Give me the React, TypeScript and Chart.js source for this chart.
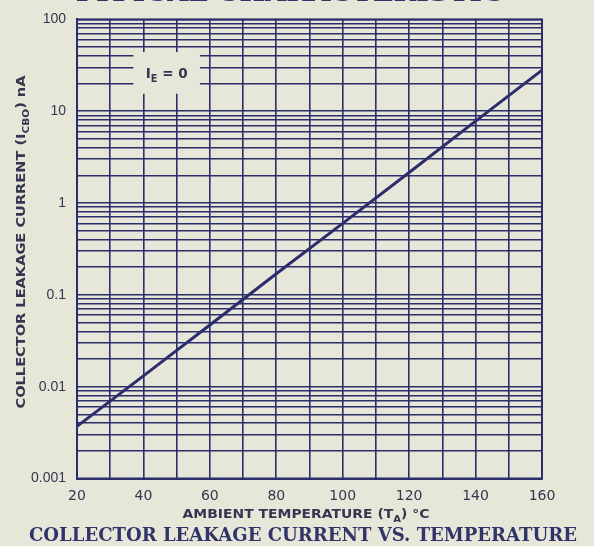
import React, { useEffect, useRef } from "react";
import { Chart, registerables } from "chart.js";

Chart.register(...registerables);

// ---- data ----
const temperatures = [20, 40, 60, 80, 100, 120, 140, 160];
const leakageNA = [0.0037, 0.0131, 0.047, 0.17, 0.6, 2.15, 7.8, 28];

const xGridTicks = [20, 30, 40, 50, 60, 70, 80, 90, 100, 110, 120, 130, 140, 150, 160];
const xLabeledTicks = [20, 40, 60, 80, 100, 120, 140, 160];

const yDecades = [0.001, 0.01, 0.1, 1, 10, 100];
const yDecadeLabels = ["0.001", "0.01", "0.1", "1", "10", "100"];
const yMinorMultipliers = [2, 3, 4, 5, 6, 7, 8, 9];

const topTitle = "TYPICAL CHARACTERISTIC";
const bottomTitle = "COLLECTOR LEAKAGE CURRENT VS. TEMPERATURE";

const BG = "#e7e7d9";
const INK = "#2c2e6c";
const TEXT = "#34364f";

type Part = { t: string; sub?: boolean };

function richWidth(ctx: CanvasRenderingContext2D, parts: Part[], size: number, weight: string, family: string) {
  let w = 0;
  for (const p of parts) {
    ctx.font = `${weight} ${p.sub ? size * 0.72 : size}px ${family}`;
    w += ctx.measureText(p.t).width;
  }
  return w;
}

function drawRich(
  ctx: CanvasRenderingContext2D,
  parts: Part[],
  cx: number,
  baseline: number,
  size: number,
  weight: string,
  family: string,
  color: string,
  targetWidth?: number
) {
  const w = richWidth(ctx, parts, size, weight, family);
  const sx = targetWidth ? targetWidth / w : 1;
  ctx.save();
  ctx.translate(cx, baseline);
  ctx.scale(sx, 1);
  ctx.fillStyle = color;
  ctx.textBaseline = "alphabetic";
  ctx.textAlign = "left";
  let x = -w / 2;
  for (const p of parts) {
    const s = p.sub ? size * 0.72 : size;
    ctx.font = `${weight} ${s}px ${family}`;
    ctx.fillText(p.t, x, p.sub ? size * 0.3 : 0);
    x += ctx.measureText(p.t).width;
  }
  ctx.restore();
}

const decorPlugin = {
  id: "decor",
  beforeDraw(chart: any) {
    const { ctx, width, height } = chart;
    ctx.save();
    ctx.fillStyle = BG;
    ctx.fillRect(0, 0, width, height);
    ctx.restore();
  },
  afterDraw(chart: any) {
    const { ctx, chartArea } = chart;
    const xs = chart.scales.x;
    const ys = chart.scales.y;

    // frame
    ctx.save();
    ctx.strokeStyle = INK;
    ctx.lineWidth = 2;
    ctx.strokeRect(chartArea.left, chartArea.top, chartArea.right - chartArea.left, chartArea.bottom - chartArea.top);
    ctx.restore();

    // I_E = 0 label box (covers grid)
    const bx0 = xs.getPixelForValue(37.0);
    const bx1 = xs.getPixelForValue(57.0);
    const by0 = ys.getPixelForValue(44);
    const by1 = ys.getPixelForValue(15.5);
    ctx.save();
    ctx.fillStyle = BG;
    ctx.fillRect(bx0, by0, bx1 - bx0, by1 - by0);
    ctx.restore();
    drawRich(ctx, [{ t: "I" }, { t: "E", sub: true }, { t: " = 0" }], (bx0 + bx1) / 2, (by0 + by1) / 2 + 5, 14, "bold", "'DejaVu Sans'", TEXT, 42);

    // x axis title
    drawRich(
      ctx,
      [{ t: "AMBIENT TEMPERATURE (T" }, { t: "A", sub: true }, { t: ") \u00B0C" }],
      306,
      518,
      12.5,
      "bold",
      "'DejaVu Sans'",
      TEXT,
      247
    );

    // y axis title (rotated)
    ctx.save();
    ctx.translate(25, 242);
    ctx.rotate(-Math.PI / 2);
    drawRich(
      ctx,
      [{ t: "COLLECTOR LEAKAGE CURRENT (I" }, { t: "CBO", sub: true }, { t: ") nA" }],
      0,
      0,
      12.5,
      "bold",
      "'DejaVu Sans'",
      TEXT,
      333
    );
    ctx.restore();

    // bottom title
    drawRich(ctx, [{ t: bottomTitle }], 303, 541, 19, "bold", "'DejaVu Serif'", "#303468", 548);

    // top title (cropped at the top edge)
    drawRich(ctx, [{ t: topTitle }], 288, 0.5, 20, "bold", "'DejaVu Serif'", "#303468", 432);
  },
};

export default function App() {
  const ref = useRef<HTMLCanvasElement | null>(null);

  useEffect(() => {
    document.body.style.margin = "0";
    const canvas = ref.current;
    if (!canvas) return;

    const yGridValues: number[] = [];
    yDecades.forEach((d, i) => {
      yGridValues.push(d);
      if (i < yDecades.length - 1) yMinorMultipliers.forEach((m) => yGridValues.push(d * m));
    });

    const chart = new Chart(canvas, {
      type: "line",
      data: {
        datasets: [
          {
            data: temperatures.map((t, i) => ({ x: t, y: leakageNA[i] })),
            borderColor: INK,
            borderWidth: 3,
            pointRadius: 0,
            tension: 0,
            fill: false,
          },
        ],
      },
      plugins: [decorPlugin],
      options: {
        responsive: false,
        animation: false,
        devicePixelRatio: 1,
        layout: { padding: { left: 0, top: 13.5, right: 52, bottom: 0 } },
        plugins: { legend: { display: false }, tooltip: { enabled: false }, title: { display: false } },
        scales: {
          x: {
            type: "linear",
            min: 20,
            max: 160,
            afterBuildTicks: (s: any) => {
              s.ticks = xGridTicks.map((v) => ({ value: v }));
            },
            afterFit: (s: any) => {
              s.height = 67.5;
            },
            grid: { color: INK, lineWidth: 1.6, drawTicks: false },
            border: { color: INK, width: 2 },
            ticks: {
              autoSkip: false,
              maxRotation: 0,
              padding: 9,
              color: TEXT,
              font: { family: "'DejaVu Sans'", size: 14 },
              callback: (v: any) => (xLabeledTicks.includes(Number(v)) ? String(v) : ""),
            },
          },
          y: {
            type: "logarithmic",
            min: 0.001,
            max: 100,
            afterBuildTicks: (s: any) => {
              s.ticks = yGridValues.map((v) => ({ value: v }));
            },
            afterFit: (s: any) => {
              s.width = 77;
            },
            grid: { color: INK, lineWidth: 1.6, drawTicks: false },
            border: { color: INK, width: 2 },
            ticks: {
              autoSkip: false,
              padding: 11,
              color: TEXT,
              font: { family: "'Liberation Sans'", size: 14 },
              callback: (v: any) => {
                const n = Number(v);
                const i = yDecades.findIndex((d) => Math.abs(d - n) / d < 1e-6);
                return i >= 0 ? yDecadeLabels[i] : "";
              },
            },
          },
        },
      },
    } as any);

    return () => chart.destroy();
  }, []);

  return (
    <div style={{ position: "fixed", left: 0, top: 0, width: 594, height: 546, background: BG }}>
      <canvas ref={ref} width={594} height={546} style={{ display: "block", width: 594, height: 546 }} />
    </div>
  );
}
